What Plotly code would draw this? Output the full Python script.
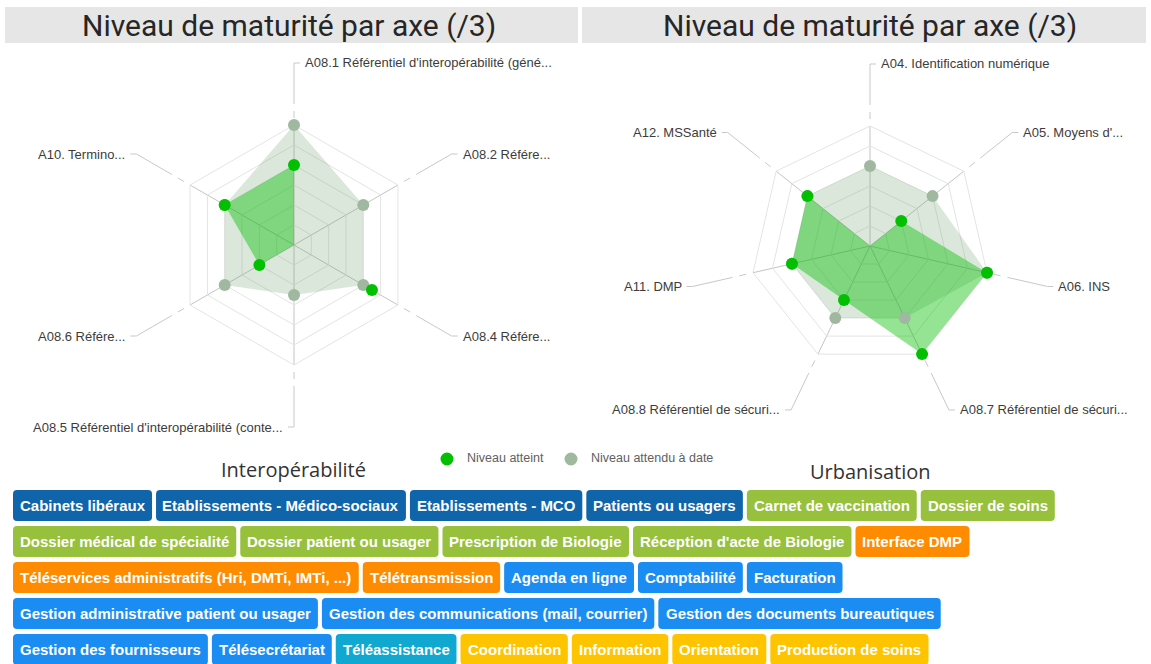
import math
import unicodedata
import plotly.graph_objects as go

W, H = 1151, 664

# ---------------- data ----------------
title_text = "Niveau de maturité par axe (/3)"

interop_axes = [
    "A08.1 Référentiel d'interopérabilité (géné...",
    "A08.2 Référe...",
    "A08.4 Référe...",
    "A08.5 Référentiel d'interopérabilité (conte...",
    "A08.6 Référe...",
    "A10. Termino...",
]
interop_achieved = [2, 0, 2.25, 0, 1, 2]
interop_expected = [3, 2, 2, 1.25, 2, 2]

urban_axes = [
    "A04. Identification numérique",
    "A05. Moyens d'...",
    "A06. INS",
    "A08.7 Référentiel de sécuri...",
    "A08.8 Référentiel de sécuri...",
    "A11. DMP",
    "A12. MSSanté",
]
urban_achieved = [0, 1, 3, 3, 1.5, 2, 2]
urban_expected = [2, 2, 3, 2, 2, 2, 2]

series_names = ["Niveau atteint", "Niveau attendu à date"]
chart_names = ["Interopérabilité", "Urbanisation"]

tags_organisation = ["Cabinets libéraux", "Etablissements - Médico-sociaux",
                     "Etablissements - MCO", "Patients ou usagers"]
tags_dossier = ["Carnet de vaccination", "Dossier de soins", "Dossier médical de spécialité",
                "Dossier patient ou usager", "Prescription de Biologie",
                "Réception d'acte de Biologie"]
tags_teleservices = ["Interface DMP", "Téléservices administratifs (Hri, DMTi, IMTi, ...)",
                     "Télétransmission"]
tags_gestion = ["Agenda en ligne", "Comptabilité", "Facturation",
                "Gestion administrative patient ou usager",
                "Gestion des communications (mail, courrier)",
                "Gestion des documents bureautiques", "Gestion des fournisseurs",
                "Télésecrétariat"]
tags_assistance = ["Téléassistance"]
tags_soins = ["Coordination", "Information", "Orientation", "Production de soins"]

# ---------------- styles ----------------
C_ACH = "#00c000"
C_ACH_FILL = "rgba(0,190,0,0.42)"
C_EXP = "#9fb89f"
C_EXP_FILL = "rgba(110,160,110,0.25)"
TAG_COLORS = ["#1064aa", "#97c03c", "#ff8c00", "#1b8cf2", "#10a8d0", "#ffc400"]
LABEL_FONT = dict(family="Liberation Sans, Arial", size=13, color="#3c3c3c")


def X(px):
    return px / W


def Y(py):
    return 1 - py / H


fig = go.Figure()
shapes = []
annotations = []

charts = [
    dict(axes=interop_axes, ach=interop_achieved, exp=interop_expected, cx=294, cy=245, R=120, pid="polar"),
    dict(axes=urban_axes, ach=urban_achieved, exp=urban_expected, cx=870, cy=246, R=120, pid="polar2"),
]

RMAX = 3
layout_polars = {}
for ci, ch in enumerate(charts):
    cats = ch["axes"]
    closed = cats + cats[:1]
    sp = ch["pid"]
    fig.add_trace(go.Scatterpolar(r=ch["exp"] + ch["exp"][:1], theta=closed, mode="lines",
                                  fill="toself", fillcolor=C_EXP_FILL, line=dict(width=0, color=C_EXP_FILL),
                                  subplot=sp, showlegend=False, hoverinfo="skip"))
    fig.add_trace(go.Scatterpolar(r=ch["ach"] + ch["ach"][:1], theta=closed, mode="lines",
                                  fill="toself", fillcolor=C_ACH_FILL, line=dict(width=0, color=C_ACH_FILL),
                                  subplot=sp, showlegend=False, hoverinfo="skip"))
    fig.add_trace(go.Scatterpolar(r=ch["exp"], theta=cats, mode="markers", name=series_names[1],
                                  marker=dict(size=12, color=C_EXP, line=dict(width=0)),
                                  subplot=sp, showlegend=False))
    fig.add_trace(go.Scatterpolar(r=ch["ach"], theta=cats, mode="markers", name=series_names[0],
                                  marker=dict(size=12, color=C_ACH, line=dict(width=0)),
                                  subplot=sp, showlegend=False))

    cx, cy, R = ch["cx"], ch["cy"], ch["R"]
    layout_polars[sp] = dict(
        domain=dict(x=[X(cx - R), X(cx + R)], y=[Y(cy + R), Y(cy - R)]),
        gridshape="linear",
        bgcolor="rgba(0,0,0,0)",
        radialaxis=dict(range=[0, RMAX], dtick=0.5, showticklabels=False, ticks="", showline=False,
                        gridcolor="#e4e4e4", gridwidth=1, layer="below traces"),
        angularaxis=dict(rotation=90, direction="clockwise", showticklabels=False, ticks="",
                         showline=True, linecolor="#e4e4e4", gridcolor="#c4c4c4", gridwidth=1,
                         layer="below traces"),
    )

    # leader lines and axis labels
    n = len(cats)
    for k, lab in enumerate(cats):
        th = math.radians(90 - k * 360 / n)
        c, s = math.cos(th), math.sin(th)

        def P(r):
            return cx + r * c, cy - r * s

        a0, a1 = P(127), P(134)
        b0, b1 = P(141), P(182)
        for (p, q) in [(a0, a1), (b0, b1)]:
            shapes.append(dict(type="line", xref="paper", yref="paper", x0=X(p[0]), y0=Y(p[1]),
                               x1=X(q[0]), y1=Y(q[1]), line=dict(color="#c8c8c8", width=1),
                               layer="below"))
        if abs(c) < 0.01:
            side = 1 if s > 0 else -1
        else:
            side = 1 if c > 0 else -1
        ex, ey = b1
        shapes.append(dict(type="line", xref="paper", yref="paper", x0=X(ex), y0=Y(ey),
                           x1=X(ex + 6 * side), y1=Y(ey), line=dict(color="#c8c8c8", width=1),
                           layer="below"))
        annotations.append(dict(x=X(ex + 9 * side), y=Y(ey), xref="paper", yref="paper", text=lab,
                                showarrow=False, xanchor="left" if side > 0 else "right",
                                yanchor="middle", font=LABEL_FONT))

# title bars
for (x0, x1, tc) in [(5, 578, 289), (582, 1146, 870)]:
    shapes.append(dict(type="rect", xref="paper", yref="paper", x0=X(x0), x1=X(x1), y0=Y(43), y1=Y(7),
                       fillcolor="#e6e6e6", line=dict(width=0), layer="below"))
    annotations.append(dict(x=X(tc), y=Y(25), xref="paper", yref="paper", text=title_text,
                            showarrow=False, xanchor="center", yanchor="middle",
                            font=dict(family="Roboto", size=30, color="#262626")))

# legend
for (cxl, col, tx, name) in [(447, C_ACH, 465, series_names[0]), (571, C_EXP, 589, series_names[1])]:
    shapes.append(dict(type="circle", xref="paper", yref="paper", x0=X(cxl - 6.5), x1=X(cxl + 6.5),
                       y0=Y(459 + 6.5), y1=Y(459 - 6.5), fillcolor=col, line=dict(width=0)))
    annotations.append(dict(x=X(tx), y=Y(458), xref="paper", yref="paper", text=name, showarrow=False,
                            xanchor="left", yanchor="middle",
                            font=dict(family="Liberation Sans, Arial", size=12.5, color="#606060")))

# chart subtitles
for (tx, ty, name) in [(293, 469, chart_names[0]), (870, 471, chart_names[1])]:
    annotations.append(dict(x=X(tx), y=Y(ty), xref="paper", yref="paper", text=name, showarrow=False,
                            xanchor="center", yanchor="middle",
                            font=dict(family="Open Sans", size=20, color="#333333")))

# ---------------- tags (flow layout) ----------------
BOLD_W = {' ': 278, "'": 238, '(': 333, ')': 333, ',': 278, '-': 333, '.': 278, '/': 278,
          'A': 722, 'B': 722, 'C': 722, 'D': 722, 'E': 667, 'F': 611, 'G': 778, 'H': 722, 'I': 278,
          'J': 556, 'K': 722, 'L': 611, 'M': 833, 'N': 722, 'O': 778, 'P': 667, 'Q': 778, 'R': 722,
          'S': 667, 'T': 611, 'U': 722, 'V': 667, 'W': 944, 'X': 667, 'Y': 667, 'Z': 611,
          'a': 556, 'b': 611, 'c': 556, 'd': 611, 'e': 556, 'f': 333, 'g': 611, 'h': 611, 'i': 278,
          'j': 278, 'k': 556, 'l': 278, 'm': 889, 'n': 611, 'o': 611, 'p': 611, 'q': 611, 'r': 389,
          's': 556, 't': 333, 'u': 611, 'v': 556, 'w': 778, 'x': 556, 'y': 556, 'z': 500}
TAG_FS = 15


def text_w(t):
    tot = 0
    for ch in t:
        base = unicodedata.normalize("NFD", ch)[0]
        tot += BOLD_W.get(base, 556)
    return tot / 1000 * TAG_FS


groups = [tags_organisation, tags_dossier, tags_teleservices, tags_gestion, tags_assistance, tags_soins]
X_START, X_END, GAP, PAD = 13, 1128, 4.0, 14
ROW_TOP, ROW_H, ROW_PITCH, RAD = 490, 31, 36, 4

x = X_START
row = 0
for gi, grp in enumerate(groups):
    col = TAG_COLORS[gi]
    for t in grp:
        w = text_w(t) + PAD
        if x + w > X_END and x > X_START:
            row += 1
            x = X_START
        x0, x1 = x, x + w
        y0 = ROW_TOP + row * ROW_PITCH
        y1 = y0 + ROW_H
        r = RAD
        path = (f"M {X(x0 + r)},{Y(y0)} L {X(x1 - r)},{Y(y0)} Q {X(x1)},{Y(y0)} {X(x1)},{Y(y0 + r)} "
                f"L {X(x1)},{Y(y1 - r)} Q {X(x1)},{Y(y1)} {X(x1 - r)},{Y(y1)} "
                f"L {X(x0 + r)},{Y(y1)} Q {X(x0)},{Y(y1)} {X(x0)},{Y(y1 - r)} "
                f"L {X(x0)},{Y(y0 + r)} Q {X(x0)},{Y(y0)} {X(x0 + r)},{Y(y0)} Z")
        shapes.append(dict(type="path", xref="paper", yref="paper", path=path, fillcolor=col,
                           line=dict(width=0)))
        annotations.append(dict(x=X((x0 + x1) / 2), y=Y((y0 + y1) / 2), xref="paper", yref="paper",
                                text=t, showarrow=False, xanchor="center", yanchor="middle",
                                font=dict(family="Liberation Sans, Arial", size=TAG_FS, color="white",
                                          weight="bold")))
        x = x1 + GAP

fig.update_layout(
    width=W, height=H, margin=dict(l=0, r=0, t=0, b=0),
    paper_bgcolor="white", plot_bgcolor="white",
    showlegend=False,
    shapes=shapes, annotations=annotations,
    **layout_polars,
)

fig.write_html("out.html", config={"displayModeBar": False},
               post_script="document.body.style.margin='0';document.body.style.overflow='hidden';")
